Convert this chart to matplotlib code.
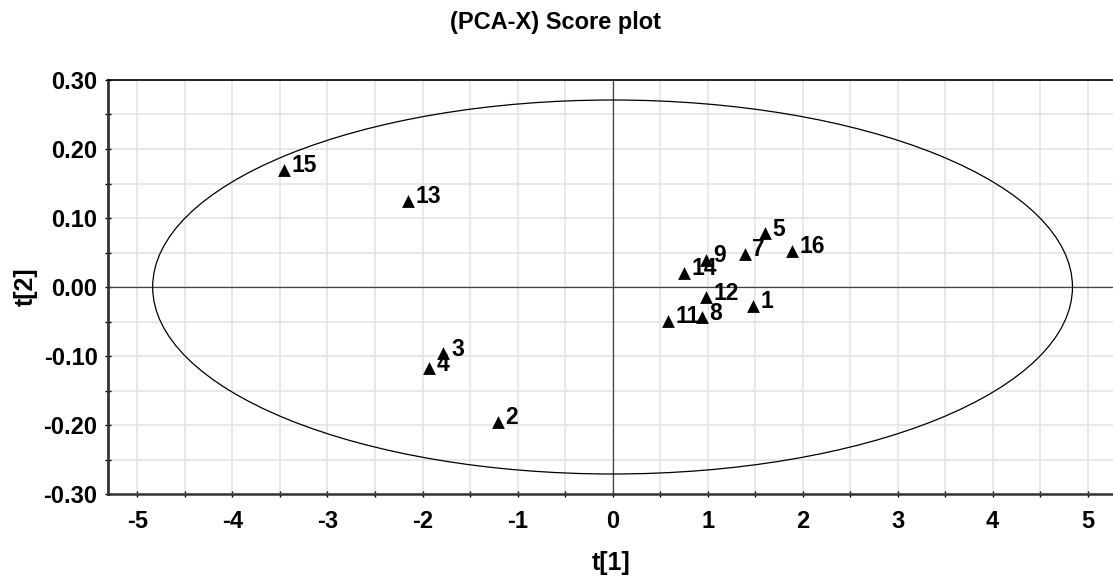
import numpy as np
import matplotlib.pyplot as plt
from matplotlib.patches import Ellipse
from matplotlib.ticker import MultipleLocator, FormatStrFormatter

plt.rcParams['font.family'] = ['Liberation Sans', 'DejaVu Sans']
plt.rcParams['font.weight'] = 'bold'

# score values
labels = ['1', '2', '3', '4', '5', '7', '8', '9', '11', '12', '13', '14', '15', '16']
t1 = [1.48, -1.21, -1.78, -1.93, 1.60, 1.39, 0.94, 0.98, 0.58, 0.98, -2.15, 0.75, -3.46, 1.89]
t2 = [-0.027, -0.195, -0.096, -0.118, 0.078, 0.048, -0.044, 0.039, -0.049, -0.015, 0.125, 0.021, 0.170, 0.052]

# Hotelling T2 ellipse semi-axes
ell_a = 4.84
ell_b = 0.271

fig = plt.figure(figsize=(11.13, 5.79), dpi=100)
ax = fig.add_axes([108/1113, 1 - 494/579, 1 - 108/1113 + 0.002, (494-80)/579])

ax.set_xlim(-5.31, 5.29)
ax.set_ylim(-0.30, 0.30)

ax.xaxis.set_major_locator(MultipleLocator(1))
ax.xaxis.set_minor_locator(MultipleLocator(0.5))
ax.yaxis.set_major_locator(MultipleLocator(0.1))
ax.yaxis.set_minor_locator(MultipleLocator(0.05))
ax.yaxis.set_major_formatter(FormatStrFormatter('%.2f'))
ax.xaxis.set_major_formatter(FormatStrFormatter('%d'))

ax.grid(True, which='both', color='#e4e4e4', lw=1.2, zorder=0)
ax.set_axisbelow(True)

ax.axhline(0, color='#444444', lw=0.9, zorder=1)
ax.axvline(0, color='#444444', lw=0.9, zorder=1)

ax.add_patch(Ellipse((0, 0), 2*ell_a, 2*ell_b, fill=False, ec='black', lw=0.9, zorder=2))

ax.scatter(t1, t2, marker='^', s=85, color='black', zorder=3, linewidths=0)
for x, y, lab in zip(t1, t2, labels):
    ax.annotate(lab, (x, y), xytext=(5.5, 3), textcoords='offset points',
                fontsize=16.5, fontweight='bold', va='center', ha='left', zorder=4)

ax.spines['right'].set_visible(False)
ax.spines['left'].set_color('#333333')
ax.spines['left'].set_linewidth(2.0)
ax.spines['bottom'].set_color('#333333')
ax.spines['bottom'].set_linewidth(1.8)
ax.spines['top'].set_linewidth(1.2)

ax.tick_params(which='both', direction='inout', length=5, width=1, labelsize=17, pad=5)
ax.tick_params(axis='x', which='major', pad=9)
for lab in ax.get_xticklabels() + ax.get_yticklabels():
    lab.set_fontweight('bold')

ax.set_xlabel('t[1]', fontsize=18, fontweight='bold', labelpad=13)
ax.set_ylabel('t[2]', fontsize=18, fontweight='bold', labelpad=4)
fig.text(0.499, 0.962, '(PCA-X) Score plot', ha='center', va='center', fontsize=17, fontweight='bold')

fig.savefig('out.png', dpi=100)
